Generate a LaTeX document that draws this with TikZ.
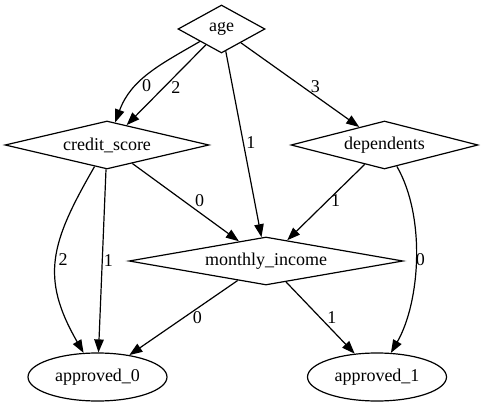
\documentclass[tikz,border=0pt]{standalone}
\usepackage{fontspec}
\setmainfont{Liberation Serif}
\usepackage{tikz}
\usetikzlibrary{arrows,arrows.meta,shapes,positioning}

\begin{document}
\begin{tikzpicture}[x=1pt, y=1pt, font=\fontsize{18}{22}\selectfont,
    test/.style={draw, diamond, inner sep=0pt, minimum height=48pt, line width=1.2pt},
    leaf/.style={draw, ellipse, inner sep=0pt, minimum width=139pt, minimum height=48pt, line width=1.2pt},
    branch/.style={line width=1.2pt, -{Triangle[length=13pt, width=9.5pt]}},
    lbl/.style={inner sep=0pt}]
    \useasboundingbox (0,0) rectangle (484,407);

    % Split nodes
    % ---------------------
    \node[test, minimum width=87pt, aspect=1.8] (age) at (221.5,378) {age};
    \node[test, minimum width=204pt, aspect=4.2] (credit) at (107,262) {credit\_score};
    \node[test, minimum width=187pt, aspect=3.9] (dependents) at (384.5,262) {dependents};
    \node[test, minimum width=274pt, aspect=5.6] (income) at (266,146) {monthly\_income};

    % Leaves
    % ---------------------
    \node[leaf] (approved0) at (97.5,30) {approved\_0};
    \node[leaf] (approved1) at (377,30) {approved\_1};

    % Branches
    % ---------------------
    \draw[branch] (age) to[out=-150, in=70] node[lbl, pos=.65, xshift=10pt] (lageA) {0} (credit);
    \draw[branch] (age) -- node[lbl, pos=.53, xshift=12pt] (lageB) {2} (credit);
    \draw[branch] (age) -- node[lbl, pos=.49, xshift=7.6pt] (lageC) {1} (income);
    \draw[branch] (age) -- node[lbl, pos=.52, xshift=13pt] (lageD) {3} (dependents);
    \draw[branch] (credit) -- node[lbl, pos=.48, xshift=16pt] (lcreditA) {0} (income);
    \draw[branch] (dependents) -- node[lbl, pos=.48, xshift=8pt] (ldepA) {1} (income);
    \draw[branch] (credit) to[out=-120, in=120, looseness=1.2] node[lbl, pos=.5, xshift=7pt] (lcreditB) {2} (approved0);
    \draw[branch] (credit) -- node[lbl, pos=.5, xshift=6pt] (lcreditC) {1} (approved0);
    \draw[branch] (dependents) to[out=-60, in=60, looseness=.8] node[lbl, pos=.5, xshift=4.5pt] (ldepB) {0} (approved1);
    \draw[branch] (income) -- node[lbl, pos=.5, xshift=14pt] (lincomeA) {0} (approved0);
    \draw[branch] (income) -- node[lbl, pos=.5, xshift=11.5pt] (lincomeB) {1} (approved1);
\end{tikzpicture}
\end{document}
